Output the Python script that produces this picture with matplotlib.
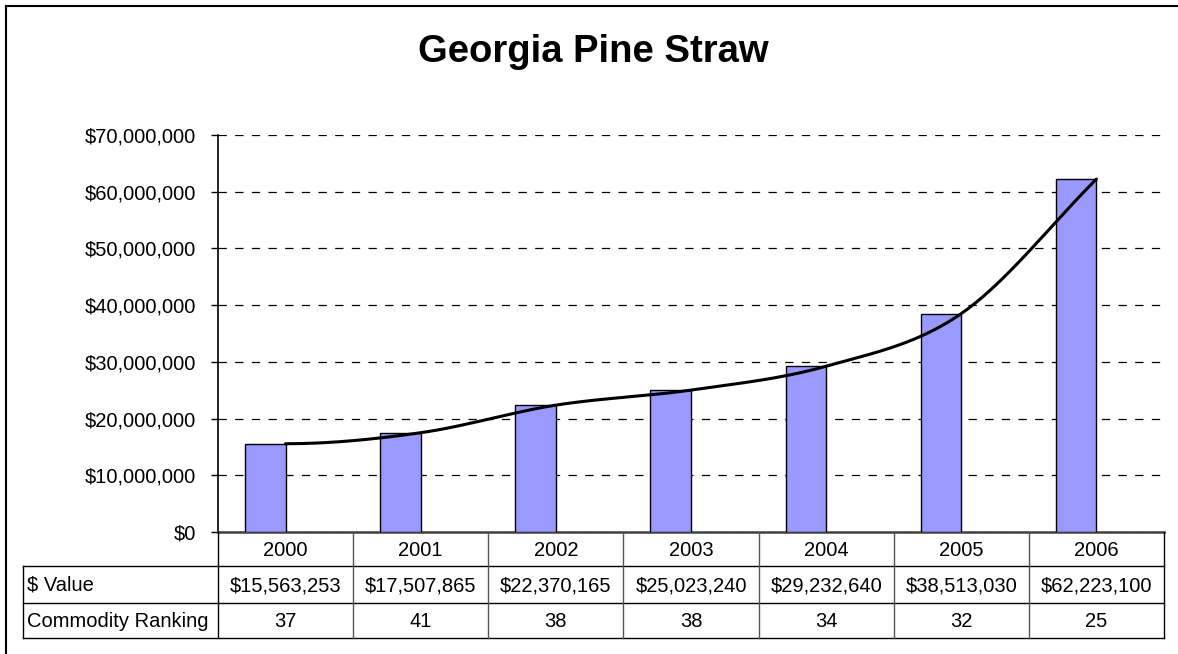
import numpy as np
import matplotlib
matplotlib.use("Agg")
import matplotlib.pyplot as plt
from matplotlib.transforms import blended_transform_factory
from matplotlib.lines import Line2D

years = ["2000", "2001", "2002", "2003", "2004", "2005", "2006"]
values = [15563253, 17507865, 22370165, 25023240, 29232640, 38513030, 62223100]
value_labels = ["$15,563,253", "$17,507,865", "$22,370,165", "$25,023,240",
                "$29,232,640", "$38,513,030", "$62,223,100"]
rankings = ["37", "41", "38", "38", "34", "32", "25"]
row_labels = ["$ Value", "Commodity Ranking"]
title = "Georgia Pine Straw"

plt.rcParams['font.family'] = ['Liberation Sans', 'DejaVu Sans']
plt.rcParams['lines.scale_dashes'] = False

W, H = 1178, 654
fig = plt.figure(figsize=(W / 100, H / 100), dpi=100)

def fx(px):
    return px / W

def fy(py):
    return 1 - py / H

FS = 14.5
ax_l, ax_r, ax_t, ax_b = 218, 1164, 135, 532
ax = fig.add_axes([fx(ax_l), fy(ax_b), fx(ax_r) - fx(ax_l), fy(ax_t) - fy(ax_b)])

n = len(years)
x = np.arange(n)
ax.bar(x, values, width=-0.3, align='edge', color='#9999FF',
       edgecolor='black', linewidth=1.0, zorder=3)


def smooth_curve(px, py, steps=40):
    """Cubic Hermite smoothing through the data points (Excel-like smoothed line)."""
    px = np.asarray(px, float)
    py = np.asarray(py, float)
    m = len(px)
    tang = np.zeros(m)
    for i in range(1, m - 1):
        tang[i] = (py[i + 1] - py[i - 1]) / 2.0
    tang[0] = 0.0
    tang[-1] = py[-1] - py[-2]
    xs, ys = [], []
    for i in range(m - 1):
        t = np.linspace(0, 1, steps, endpoint=(i == m - 2))
        h00 = 2 * t ** 3 - 3 * t ** 2 + 1
        h10 = t ** 3 - 2 * t ** 2 + t
        h01 = -2 * t ** 3 + 3 * t ** 2
        h11 = t ** 3 - t ** 2
        ys.append(h00 * py[i] + h10 * tang[i] + h01 * py[i + 1] + h11 * tang[i + 1])
        xs.append(px[i] + t * (px[i + 1] - px[i]))
    return np.concatenate(xs), np.concatenate(ys)


sx, sy = smooth_curve(x, values)
ax.plot(sx, sy, color='black', linewidth=2.2, zorder=4, solid_capstyle='round')

ax.set_xlim(-0.5, n - 0.5)
ax.set_ylim(0, 70000000)
ticks = np.arange(0, 70000001, 10000000)
ax.set_yticks(ticks)
ax.set_yticklabels(["$0" if v == 0 else "${:,}".format(int(v)) for v in ticks], fontsize=FS)
ax.set_xticks([])
ax.yaxis.grid(True, color='black', linestyle=(0, (6, 6)), linewidth=0.9, zorder=0)
ax.set_axisbelow(True)
ax.tick_params(axis='y', length=5, width=1, color='black', pad=11)
for s in ['top', 'right']:
    ax.spines[s].set_visible(False)
ax.spines['left'].set_color('black')
ax.spines['left'].set_linewidth(1.2)
ax.spines['bottom'].set_color('#404040')
ax.spines['bottom'].set_linewidth(1.8)

# Data table
rows_y = [532, 566, 603, 638]
col_edges_px = [ax_l + (ax_r - ax_l) * i / n for i in range(n + 1)]
tab_left = 23
lc = 'black'
lw = 1.0
for yy in rows_y[1:]:
    fig.add_artist(Line2D([fx(tab_left), fx(ax_r)], [fy(yy), fy(yy)], color=lc, lw=lw))
for i, xe in enumerate(col_edges_px):
    col = 'black' if i in (0, n) else '#555555'
    fig.add_artist(Line2D([fx(xe), fx(xe)], [fy(rows_y[0]), fy(rows_y[-1])], color=col, lw=lw))
fig.add_artist(Line2D([fx(tab_left), fx(tab_left)], [fy(rows_y[1]), fy(rows_y[-1])], color=lc, lw=lw))

trans = blended_transform_factory(ax.transData, fig.transFigure)
row_texts = [years, value_labels, rankings]
for r, texts in enumerate(row_texts):
    yc = fy((rows_y[r] + rows_y[r + 1]) / 2 + 1)
    for i, t in enumerate(texts):
        fig.text(i, yc, t, transform=trans, ha='center', va='center', fontsize=FS)
for r, lab in enumerate(row_labels):
    yc = fy((rows_y[r + 1] + rows_y[r + 2]) / 2 + 1)
    fig.text(fx(tab_left + 4), yc, lab, ha='left', va='center', fontsize=FS)

# Title
fig.text(fx(593), fy(52), title, ha='center', va='center', fontsize=27.5, fontweight='bold')

# Chart frame
fig.add_artist(Line2D([fx(6), fx(6)], [fy(6), 0], color='black', lw=1.5))
fig.add_artist(Line2D([fx(6), 1], [fy(6), fy(6)], color='black', lw=1.5))

fig.savefig("out.png", dpi=100)
